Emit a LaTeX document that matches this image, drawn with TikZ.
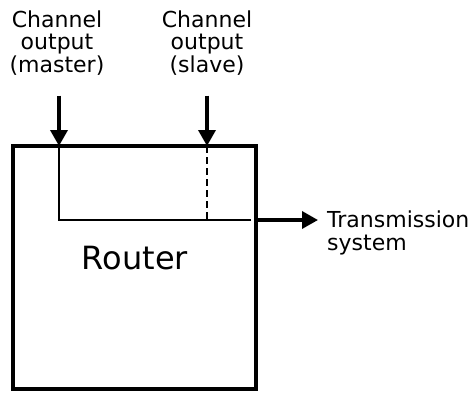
\documentclass[tikz,border=0pt]{standalone}
\usepackage{fontspec}
\setmainfont{DejaVu Sans}
\usetikzlibrary{arrows.meta, positioning}

\begin{document}
\begin{tikzpicture}[
    x=1pt, y=-1pt,
    lbl/.style={align=center, inner sep=0pt, font=\fontsize{22pt}{22.5pt}\selectfont},
    box/.style={rectangle, draw, line width=3.5pt, minimum width=243pt, minimum height=243pt, inner sep=0pt},
    arrow/.style={-{Triangle[width=17pt, length=16pt]}, line width=3.5pt},
    wire/.style={line width=1.4pt}
]
\useasboundingbox (0,0) rectangle (476,392);

\node[box] (router) at (134.5,267.5) {};
\node[font=\fontsize{32pt}{36pt}\selectfont, inner sep=0pt] (name) at (135,258) {Router};

\node[lbl, anchor=north] (mlabel) at (57,10.5) {Channel\\output\\(master)};
\node[lbl, anchor=north] (slabel) at (207,10.5) {Channel\\output\\(slave)};
\node[lbl, anchor=north west, align=left] (txlabel) at (327,211) {Transmission\\system};

\coordinate (min) at (59,146);
\coordinate (sin) at (207,146);
\coordinate (mcorner) at (59,220);
\coordinate (sjoin) at (207,220);
\coordinate (bus) at (251,220);

% inputs
\draw[arrow, shorten <=20pt] (mlabel.south -| min) -- (min);
\draw[arrow, shorten <=20pt] (slabel.south -| sin) -- (sin);

% inside the router
\draw[wire] (min) -- (mcorner) -- (bus);
\draw[wire, dash pattern=on 7pt off 4pt] (sin) -- (sjoin);

% output
\draw[arrow, shorten >=9pt] (router.east |- bus) -- (txlabel.west |- bus);
\end{tikzpicture}
\end{document}
